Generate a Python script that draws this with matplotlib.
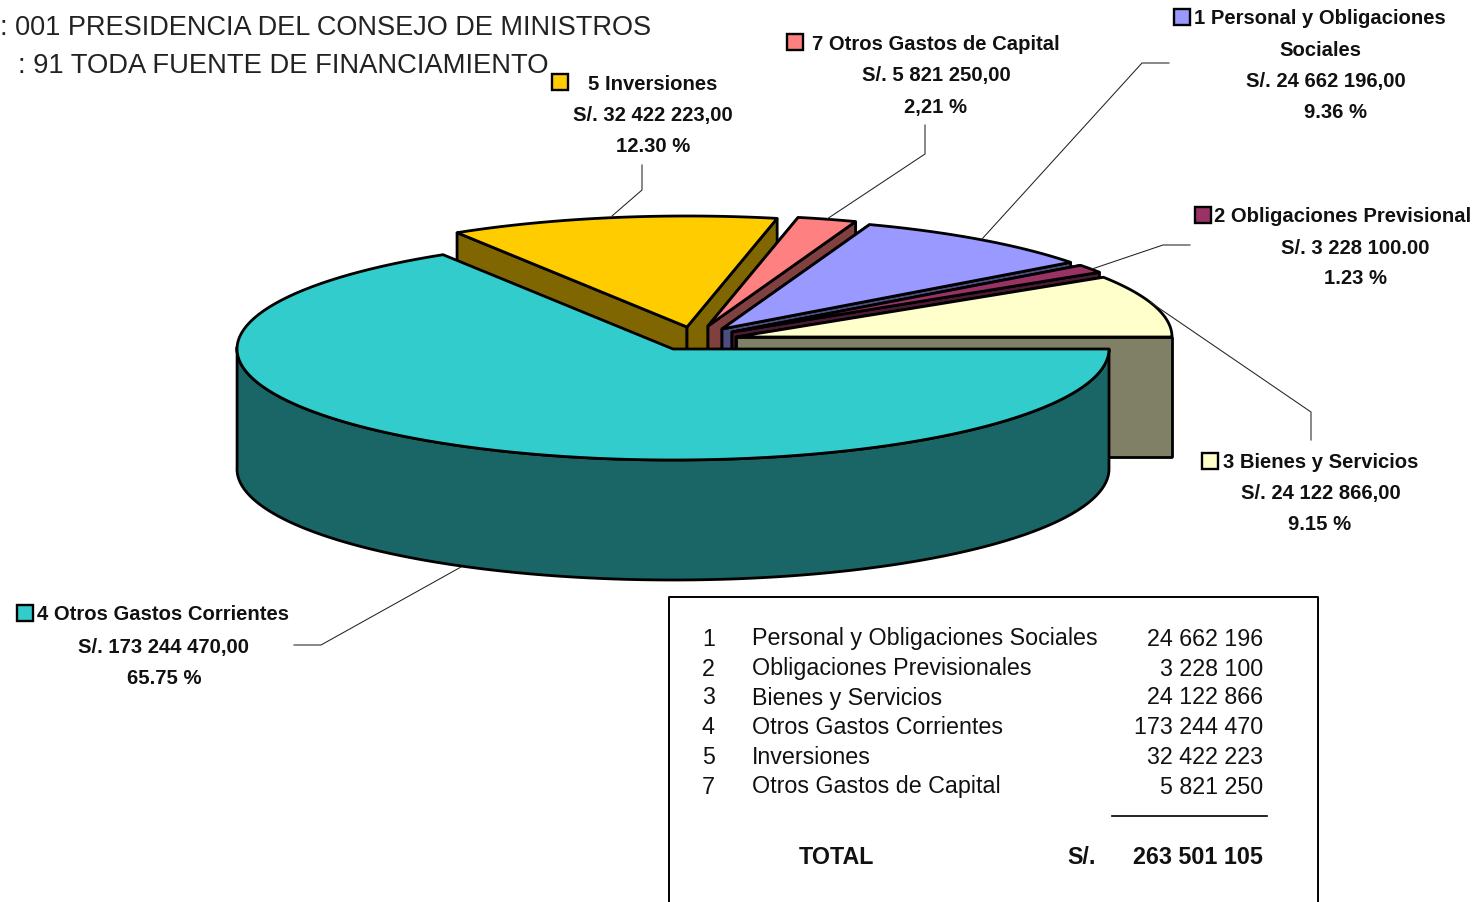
import numpy as np
import matplotlib
matplotlib.use('Agg')
import matplotlib.pyplot as plt
from matplotlib.patches import Polygon, Rectangle

# datos del grafico
codes = ['1', '2', '3', '4', '5', '7']
names = ['Personal y Obligaciones Sociales', 'Obligaciones Previsionales', 'Bienes y Servicios',
         'Otros Gastos Corrientes', 'Inversiones', 'Otros Gastos de Capital']
values = [24662196, 3228100, 24122866, 173244470, 32422223, 5821250]
table_values = ['24 662 196', '3 228 100', '24 122 866', '173 244 470', '32 422 223', '5 821 250']
total_label = '263 501 105'
header_lines = [': 001 PRESIDENCIA DEL CONSEJO DE MINISTROS', ': 91 TODA FUENTE DE FINANCIAMIENTO']

top_colors = {'1': '#9999FF', '2': '#993366', '3': '#FFFFCC', '4': '#33CCCC', '5': '#FFCC00', '7': '#FF8080'}
wall_colors = {'1': '#4D4D80', '2': '#4D1A33', '3': '#808066', '4': '#1A6666', '5': '#806600', '7': '#804040'}

# geometria de la torta, en pixeles
RX, RY, DEPTH = 436, 111, 120
apex = {'4': (673, 349), '5': (687, 327), '7': (708, 326), '1': (722, 329), '2': (732, 332), '3': (736, 337)}
draw_order = ['5', '7', '1', '2', '3', '4']
SQUEEZE = 0.988  # la perspectiva junta un poco los sectores de atras
LW = 2.0
ARIAL = ['Liberation Sans']

fig = plt.figure(figsize=(14.76, 9.02), dpi=100)
ax = fig.add_axes([0, 0, 1, 1])
ax.set_xlim(0, 1476)
ax.set_ylim(902, 0)
ax.axis('off')

# angulos: el 3 empieza en 0 grados y se sigue en sentido antihorario
angles = {}
start = 0.0
for code in ['3', '2', '1', '7', '5', '4']:
    span = 360.0 * values[codes.index(code)] / sum(values)
    angles[code] = (start, start + span)
    start += span
back_end = angles['4'][0]


def point(code, ang, drop=0):
    x0, y0 = apex[code]
    shown = np.interp(ang, [0, back_end, 360], [0, back_end * SQUEEZE, 360])
    return (x0 + RX * np.cos(np.radians(shown)), y0 - RY * np.sin(np.radians(shown)) + drop)


for code in draw_order:
    a0, a1 = angles[code]
    x0, y0 = apex[code]
    if code == '4':
        arc = np.linspace(180, 360, 160)
        wall = [point(code, t) for t in arc] + [point(code, t, DEPTH) for t in arc[::-1]]
        ax.add_patch(Polygon(wall, closed=True, fc=wall_colors[code], ec='black', lw=LW))
    else:
        for ang in (a1, a0):
            p = point(code, ang)
            wall = [(x0, y0), p, (p[0], p[1] + DEPTH), (x0, y0 + DEPTH)]
            ax.add_patch(Polygon(wall, closed=True, fc=wall_colors[code], ec='black', lw=LW, joinstyle='bevel'))
    arc = np.linspace(a0, a1, 120)
    top = [(x0, y0)] + [point(code, t) for t in arc]
    ax.add_patch(Polygon(top, closed=True, fc=top_colors[code], ec='black', lw=LW, joinstyle='round'))

# lineas guia
leaders = [
    [(642, 165), (642, 190), (612, 216)],
    [(925, 125), (925, 154), (827, 219)],
    [(1169, 63), (1142, 63), (982, 239)],
    [(1190, 245), (1163, 245), (1092, 269)],
    [(1311, 440), (1311, 412), (1150, 302)],
    [(294, 645), (321, 645), (461, 567)],
]
for path in leaders:
    xs, ys = zip(*path)
    ax.plot(xs, ys, color='#222222', lw=0.75)

# etiquetas: clave, (x, y) de la clave y lineas de texto
keys = {'5': (552, 74), '7': (787, 34), '1': (1174, 9), '2': (1195, 207), '3': (1202, 453), '4': (17, 605)}
label_lines = [
    ('5 Inversiones', 653, 84), ('S/. 32 422 223,00', 653, 115), ('12.30 %', 653, 146),
    ('7 Otros Gastos de Capital', 936, 44), ('S/. 5 821 250,00', 936, 75), ('2,21 %', 935, 107),
    ('1 Personal y Obligaciones', 1320, 18), ('Sociales', 1320, 50), ('S/. 24 662 196,00', 1326, 81), ('9.36 %', 1336, 112),
    ('2 Obligaciones Previsional', 1343, 216), ('S/. 3 228 100.00', 1355, 248), ('1.23 %', 1355, 279),
    ('3 Bienes y Servicios', 1321, 462), ('S/. 24 122 866,00', 1321, 494), ('9.15 %', 1320, 525),
    ('4 Otros Gastos Corrientes', 163, 614), ('S/. 173 244 470,00', 164, 647), ('65.75 %', 164, 678),
]
for code, (kx, ky) in keys.items():
    ax.add_patch(Rectangle((kx, ky), 16, 16, fc=top_colors[code], ec='black', lw=1.7))
for txt, x, y in label_lines:
    ax.text(x, y, txt, family=ARIAL, fontsize=14.6, fontweight='bold', ha='center', va='center', color='#111111')

# encabezado
ax.text(0, 28, header_lines[0], family=ARIAL, fontsize=19.5, ha='left', va='center', color='#222222')
ax.text(18, 66, header_lines[1], family=ARIAL, fontsize=19.7, ha='left', va='center', color='#222222')

# cuadro con la tabla
ax.plot([669, 669, 1318, 1318], [902, 597, 597, 902], color='black', lw=1.4)
row_y = [639, 669, 698, 728, 758, 787]
for code, name, val, y in zip(codes, names, table_values, row_y):
    ax.text(702, y, code, family=ARIAL, fontsize=16.75, ha='left', va='center', color='#111111')
    ax.text(752, y, name, family=ARIAL, fontsize=16.75, ha='left', va='center', color='#111111')
    ax.text(1263, y, val, family=ARIAL, fontsize=16.75, ha='right', va='center', color='#111111')
ax.plot([1112, 1267], [816, 816], color='black', lw=1.2)
ax.text(799, 857, 'TOTAL', family=ARIAL, fontsize=16.75, fontweight='bold', ha='left', va='center', color='#111111')
ax.text(1067, 857, 'S/.', family=ARIAL, fontsize=16.75, fontweight='bold', ha='left', va='center', color='#111111')
ax.text(1263, 857, total_label, family=ARIAL, fontsize=16.75, fontweight='bold', ha='right', va='center', color='#111111')

fig.savefig('out.png', dpi=100)
